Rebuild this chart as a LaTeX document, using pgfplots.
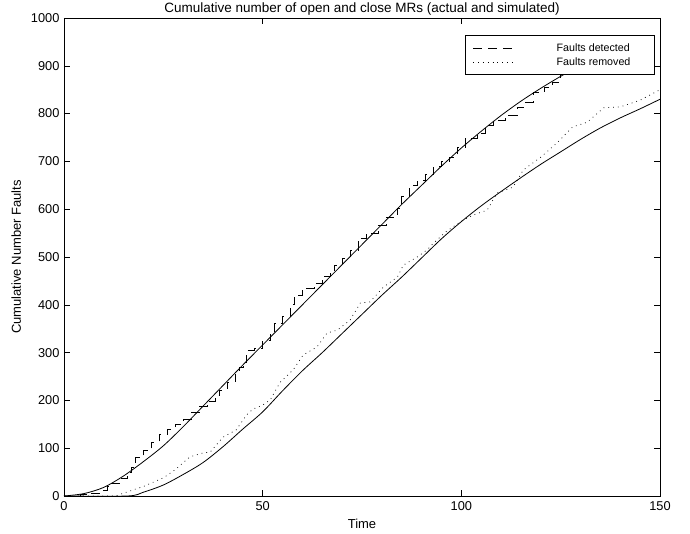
\documentclass[border=0pt]{standalone}
\usepackage{fontspec}
\setmainfont{Liberation Sans}
\usepackage{pgfplots}
\pgfplotsset{compat=1.18}
\begin{document}
\begin{tikzpicture}
\useasboundingbox (-64pt,-38pt) rectangle (626pt,496pt);
\begin{axis}[
  at={(0pt,0pt)}, anchor=south west,
  scale only axis, width=596pt, height=478pt,
  xmin=0, xmax=150, ymin=0, ymax=1000,
  xtick={0,50,100,150}, ytick={0,100,...,1000},
  tick align=inside, major tick length=6pt,
  every tick/.style={black, line width=0.5pt},
  axis line style={line width=0.6pt},
  tick label style={font=\fontsize{12.8}{14}\selectfont},
  xticklabel style={yshift=-2pt},
  yticklabel style={xshift=-1pt},
  /pgf/number format/assume math mode=true,
  /pgf/number format/1000 sep={},
  title={Cumulative number of open and close MRs (actual and simulated)},
  title style={font=\fontsize{13.5}{15}\selectfont, yshift=-7pt},
  xlabel={Time}, ylabel={Cumulative Number Faults},
  label style={font=\fontsize{13}{15}\selectfont},
  xlabel style={yshift=-2pt},
  ylabel style={yshift=3pt},
  legend style={at={(1,1)}, anchor=north east, xshift=-5pt, yshift=-17pt,
    font=\fontsize{10.7}{12.5}\selectfont, draw=black, line width=0.6pt,
    fill=white, inner xsep=8pt, inner ysep=6pt, row sep=1pt,
    /tikz/every odd column/.append style={column sep=39pt}},
  legend cell align=left,
  legend image code/.code={\draw[#1] (0pt,0pt) -- (42pt,0pt);},
]
% actual detected (staircase)
\addplot[black, line width=0.6pt, const plot, dash pattern=on 9pt off 6pt] coordinates {
(0,0)(4,3)(6,6)(9,12)(11,20)(12,27)(14,38)(16,50)(17,60)(18,80)(20,95)(22,112)(24,130)(26,140)(28,150)(30,160)(32,175)(34,188)(36,198)(38,210)(39,222)(41,238)(43,255)(44,270)(45,280)(46,305)(48,310)(50,325)(52,343)(53,362)(55,375)(57,400)(58,420)(60,435)(63,445)(65,460)(67,470)(68,483)(70,498)(72,515)(74,540)(76,550)(79,567)(81,584)(84,602)(85,626)(87,650)(89,661)(91,672)(93,690)(95,700)(97,709)(99,730)(101,749)(104,759)(106,776)(108,787)(111,797)(114,814)(116,824)(118,845)(121,855)(123,866)(125,885)(126,885)
};
\addlegendentry{\makebox[88pt][l]{Faults detected}}
% actual removed
\addplot[black, line width=0.7pt, dash pattern=on 0.8pt off 4pt] coordinates {
(0,0)(13,0)(15,6)(20,20)(25,38)(28,55)(31.7,82)(35,90)(36.8,92)(40,123)(43.3,138)(46,170)(47.6,182)(50,190)(51.9,201)(54.4,238)(57.7,264)(60.2,295)(63.7,312)(66.2,341)(68.8,347)(72,368)(74.6,404)(77,406)(80.4,437)(83.9,458)(85.4,483)(88.9,500)(91.4,515)(93,529)(96,552)(100,575)(103,588)(106.5,598)(109,634)(113,646)(115.6,682)(120,709)(124,738)(128,772)(131.7,782)(135.8,812)(140,814)(145,828)(150,850)
};
\addlegendentry{\makebox[88pt][l]{Faults removed}}
% simulated detected
\addplot[black, line width=0.8pt, smooth] coordinates {
(0,0)(5,5)(10,18)(15,42)(20,72)(25,105)(30,145)(35,188)(40,231)(45,274)(50,316)(55,358)(60,400)(65,442)(70,484)(75,526)(80,568)(85,610)(90,650)(95,690)(100,728)(105,763)(110,796)(115,826)(120,853)(125,878)(128,892)
};
% simulated removed
\addplot[black, line width=0.8pt, smooth] coordinates {
(0,0)(16,0)(20,8)(25,23)(30,45)(35,70)(40,103)(45,140)(50,176)(55,220)(60,262)(65,300)(70,340)(75,380)(80,420)(85,458)(90,498)(95,538)(100,574)(105,607)(110,637)(115,666)(120,694)(125,720)(130,746)(135,770)(140,791)(145,810)(150,830)
};
\end{axis}
\end{tikzpicture}
\end{document}
